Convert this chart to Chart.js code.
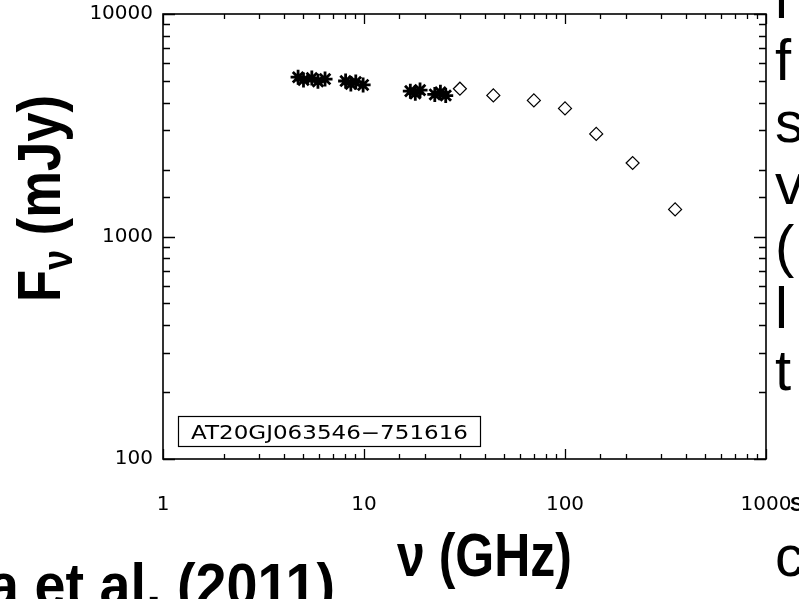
<!DOCTYPE html>
<html>
<head>
<meta charset="utf-8">
<script src="https://cdn.jsdelivr.net/npm/chart.js@4.4.0/dist/chart.umd.min.js"></script>
<style>
  html, body { margin: 0; padding: 0; background: #fff; overflow: hidden; }
  #sed { display: block; }
</style>
</head>
<body>
<canvas id="sed" width="799" height="599"></canvas>
<script>
// ground-based ATCA epochs (asterisks)
const atcaFreq = [4.7, 5.0, 5.5, 5.9, 6.4, 8.1, 8.6, 9.1, 9.9, 17, 18, 19, 22.5, 24, 25.5];
const atcaFlux = [5200, 5050, 5150, 4980, 5100, 5000, 4850, 4950, 4800, 4500, 4400, 4550, 4350, 4450, 4300];

// Planck band fluxes (diamonds)
const planckFreq = [30, 44, 70, 100, 143, 217, 353];
const planckFlux = [4616, 4305, 4090, 3765, 2890, 2140, 1324];

const xTicks = [1, 10, 100, 1000];
const yTicks = [100, 1000, 10000];
const sourceName = 'AT20GJ063546\u2212751616';

// slide text that runs off the right edge
const sideLetters = ['l', 'f', 's', 'v', '(', 'l', 't', '', '', 'c'];

const toPoints = (xs, ys) => xs.map((x, i) => ({ x, y: ys[i] }));

// IDL-style frame: box with inward ticks on all four sides
const frameTicks = {
  id: 'frameTicks',
  afterDatasetsDraw(chart) {
    const { ctx, chartArea: a, scales: { x, y } } = chart;
    ctx.save();
    ctx.strokeStyle = '#000';
    ctx.lineWidth = 1.6;
    ctx.strokeRect(a.left, a.top, a.right - a.left, a.bottom - a.top);
    ctx.lineWidth = 1.3;
    ctx.beginPath();
    x.ticks.forEach(t => {
      const px = Math.round(x.getPixelForValue(t.value)) + 0.5;
      const len = xTicks.includes(t.value) ? 10 : 5;
      ctx.moveTo(px, a.bottom); ctx.lineTo(px, a.bottom - len);
      ctx.moveTo(px, a.top); ctx.lineTo(px, a.top + len);
    });
    y.ticks.forEach(t => {
      const py = Math.round(y.getPixelForValue(t.value)) + 0.5;
      const len = yTicks.includes(t.value) ? 12 : 7;
      ctx.moveTo(a.left, py); ctx.lineTo(a.left + len, py);
      ctx.moveTo(a.right, py); ctx.lineTo(a.right - len, py);
    });
    ctx.stroke();
    ctx.restore();
  }
};

// draw text squeezed to a target width
function fitText(ctx, parts, width) {
  let total = 0;
  parts.forEach(p => { ctx.font = p.font; total += ctx.measureText(p.text).width; });
  ctx.save();
  ctx.scale(width / total, 1);
  let cx = 0;
  parts.forEach(p => {
    ctx.font = p.font;
    ctx.fillText(p.text, cx, p.dy || 0);
    cx += ctx.measureText(p.text).width;
  });
  ctx.restore();
}

const labels = {
  id: 'labels',
  afterDraw(chart) {
    const { ctx, chartArea: a } = chart;
    ctx.save();
    ctx.fillStyle = '#000';
    ctx.textBaseline = 'alphabetic';
    ctx.textAlign = 'left';

    // source name box
    ctx.strokeStyle = '#000';
    ctx.lineWidth = 1.2;
    ctx.strokeRect(a.left + 15.5, a.bottom - 42.5, 302, 30);
    ctx.save();
    ctx.translate(a.left + 28, a.bottom - 20);
    fitText(ctx, [{ text: sourceName, font: '19px "DejaVu Sans"' }], 277);
    ctx.restore();

    // y axis title, rotated
    const bold = '62px "Liberation Sans", Arial, sans-serif';
    ctx.save();
    ctx.translate(60, 302);
    ctx.rotate(-Math.PI / 2);
    fitText(ctx, [
      { text: 'F', font: 'bold ' + bold },
      { text: '\u03bd', font: 'bold 42px "Liberation Sans", Arial, sans-serif', dy: 12 },
      { text: ' (mJy)', font: 'bold ' + bold }
    ], 207);
    ctx.restore();

    // x axis title
    ctx.save();
    ctx.translate(397, 576);
    fitText(ctx, [{ text: '\u03bd (GHz)', font: 'bold ' + bold }], 175);
    ctx.restore();

    // citation, cut at the left edge
    ctx.save();
    ctx.translate(-12, 606);
    fitText(ctx, [{ text: 'a et al. (2011)', font: 'bold ' + bold }], 347);
    ctx.restore();

    // side text column
    ctx.font = '58px "Liberation Sans", Arial, sans-serif';
    sideLetters.forEach((ch, i) => {
      if (ch) ctx.fillText(ch, 775, 18 + i * 62);
    });
    // sliver of a letter peeking out beside the last x label
    ctx.font = 'bold 20px "Liberation Sans", Arial, sans-serif';
    ctx.fillText('S', 790, 511);
    ctx.restore();
  }
};

const tickFont = { family: '"DejaVu Sans", sans-serif', size: 20 };

new Chart(document.getElementById('sed'), {
  type: 'scatter',
  data: {
    datasets: [
      {
        label: 'ATCA',
        data: toPoints(atcaFreq, atcaFlux),
        pointStyle: 'star',
        pointRadius: 7.5,
        borderWidth: 2.8,
        borderColor: '#000',
        backgroundColor: '#000'
      },
      {
        label: 'Planck',
        data: toPoints(planckFreq, planckFlux),
        pointStyle: 'rectRot',
        pointRadius: 6.5,
        borderWidth: 1.2,
        borderColor: '#000',
        backgroundColor: 'rgba(0,0,0,0)'
      }
    ]
  },
  options: {
    responsive: false,
    animation: false,
    events: [],
    layout: { padding: { top: 14, right: 33, left: 0, bottom: 0 } },
    plugins: { legend: { display: false }, tooltip: { enabled: false } },
    scales: {
      x: {
        type: 'logarithmic',
        min: 1,
        max: 1000,
        grid: { display: false, drawTicks: false },
        border: { display: false },
        ticks: {
          autoSkip: false,
          maxRotation: 0,
          padding: 34,
          color: '#000',
          font: tickFont,
          callback: v => xTicks.includes(v) ? String(v) : ''
        },
        afterFit: s => { s.height = 140; s.paddingLeft = 0; s.paddingRight = 0; }
      },
      y: {
        type: 'logarithmic',
        min: 100,
        max: 10000,
        grid: { display: false, drawTicks: false },
        border: { display: false },
        ticks: {
          autoSkip: false,
          padding: 10,
          color: '#000',
          font: tickFont,
          callback: v => yTicks.includes(v) ? String(v) : ''
        },
        afterFit: s => { s.width = 163; s.paddingTop = 0; s.paddingBottom = 0; }
      }
    }
  },
  plugins: [frameTicks, labels]
});
</script>
</body>
</html>
